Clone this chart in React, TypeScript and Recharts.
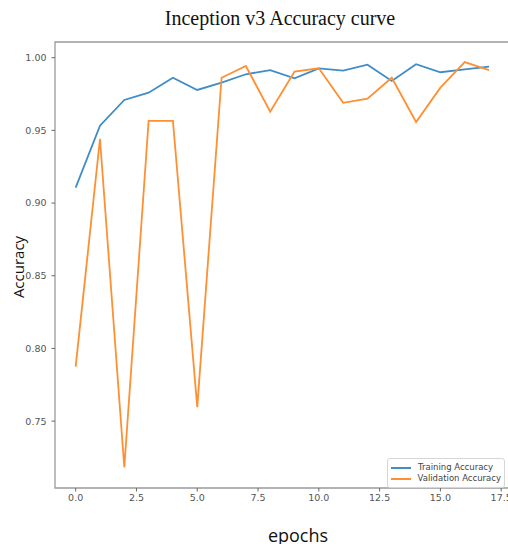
import { LineChart, Line, XAxis, YAxis, ReferenceArea } from 'recharts'

const epochs = [0, 1, 2, 3, 4, 5, 6, 7, 8, 9, 10, 11, 12, 13, 14, 15, 16, 17]
const trainingAccuracy = [
  0.9106, 0.9532, 0.9709, 0.9759, 0.9862, 0.9778, 0.9828, 0.9886, 0.9915,
  0.9858, 0.9927, 0.9911, 0.9952, 0.984, 0.9955, 0.99, 0.992, 0.9938,
]
const validationAccuracy = [
  0.7875, 0.9441, 0.7183, 0.9565, 0.9565, 0.7596, 0.9862, 0.9943, 0.9629,
  0.9904, 0.9927, 0.969, 0.9718, 0.9862, 0.9558, 0.9794, 0.997, 0.9915,
]
const seriesNames = ['Training Accuracy', 'Validation Accuracy']
const xTicks = [0, 2.5, 5, 7.5, 10, 12.5, 15, 17.5]
const yTicks = [0.75, 0.8, 0.85, 0.9, 0.95, 1.0]

const data = epochs.map((e, i) => ({
  epoch: e,
  train: trainingAccuracy[i],
  val: validationAccuracy[i],
}))

const BLUE = '#3f8cc6'
const ORANGE = '#ff8f33'
const tickStyle = { fill: '#555', fontSize: 9.5, fontFamily: 'DejaVu Sans' }

const LegendBox = () => (
  <div
    style={{
      position: 'absolute',
      left: 387,
      top: 458,
      width: 118,
      boxSizing: 'border-box',
      border: '1px solid #d6d6d6',
      borderRadius: 3,
      background: '#fff',
      padding: '3px 3px 3px 3px',
      fontFamily: 'DejaVu Sans',
      fontSize: 8.5,
      color: '#444',
      lineHeight: '11px',
      whiteSpace: 'nowrap',
    }}
  >
    {[
      [seriesNames[0], BLUE],
      [seriesNames[1], ORANGE],
    ].map(([name, color]) => (
      <div key={name} style={{ display: 'flex', alignItems: 'center' }}>
        <span style={{ width: 20, height: 0, borderTop: `2px solid ${color}`, marginRight: 7 }} />
        {name}
      </div>
    ))}
  </div>
)

export default function App() {
  return (
    <div
      style={{
        position: 'absolute',
        left: 0,
        top: 0,
        width: 508,
        height: 544,
        overflow: 'hidden',
        background: '#fff',
      }}
    >
      <LineChart
        width={520}
        height={544}
        data={data}
        margin={{ top: 42, right: 10.3, left: 0, bottom: 36 }}
      >
        <XAxis
          dataKey="epoch"
          type="number"
          domain={[-0.85, 17.85]}
          ticks={xTicks}
          tickFormatter={(v: number) => v.toFixed(1)}
          axisLine={false}
          tickLine={{ stroke: '#666' }}
          tickSize={3.5}
          tickMargin={3}
          height={20}
          tick={tickStyle}
          allowDataOverflow
        />
        <YAxis
          type="number"
          domain={[0.704, 1.0108]}
          ticks={yTicks}
          tickFormatter={(v: number) => v.toFixed(2)}
          axisLine={false}
          tickLine={{ stroke: '#666' }}
          tickSize={3.5}
          tickMargin={5}
          width={55}
          tick={tickStyle}
          allowDataOverflow
        />
        <ReferenceArea
          x1={-0.85}
          x2={17.85}
          y1={0.704}
          y2={1.0108}
          fill="none"
          stroke="#9a9a9a"
          strokeWidth={1.3}
        />
        <Line
          dataKey="train"
          name={seriesNames[0]}
          stroke={BLUE}
          strokeWidth={1.8}
          dot={false}
          isAnimationActive={false}
        />
        <Line
          dataKey="val"
          name={seriesNames[1]}
          stroke={ORANGE}
          strokeWidth={1.8}
          dot={false}
          isAnimationActive={false}
        />
      </LineChart>
      <LegendBox />
      <div
        style={{
          position: 'absolute',
          left: 0,
          width: 560,
          top: 7,
          textAlign: 'center',
          fontFamily: 'Liberation Serif',
          fontSize: 20,
          color: '#111',
        }}
      >
        Inception v3 Accuracy curve
      </div>
      <div
        style={{
          position: 'absolute',
          left: 18,
          top: 267,
          transform: 'translate(-50%, -50%) rotate(-90deg)',
          fontFamily: 'Open Sans',
          fontSize: 15,
          color: '#111',
          whiteSpace: 'nowrap',
        }}
      >
        Accuracy
      </div>
      <div
        style={{
          position: 'absolute',
          left: 298,
          top: 523,
          transform: 'translateX(-50%)',
          fontFamily: 'Open Sans',
          fontSize: 18,
          color: '#111',
        }}
      >
        epochs
      </div>
    </div>
  )
}
